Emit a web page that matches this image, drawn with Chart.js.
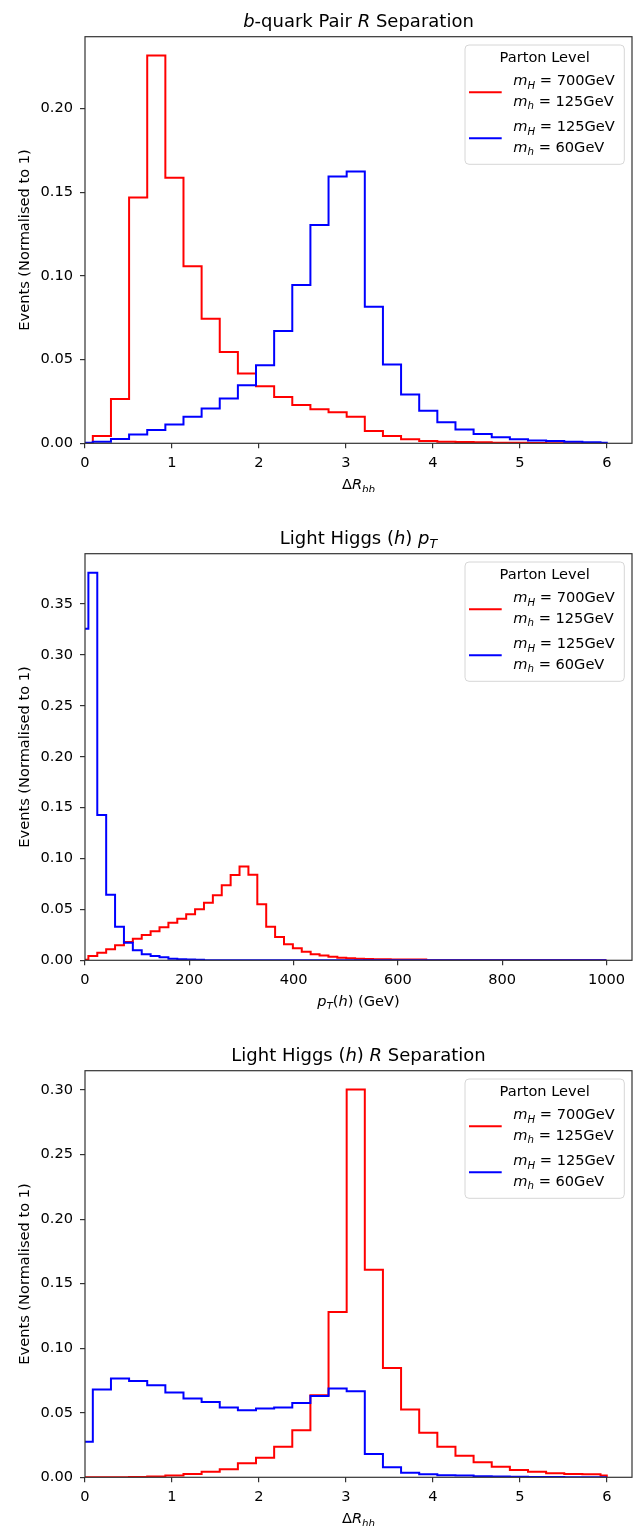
<!DOCTYPE html>
<html>
<head>
<meta charset="utf-8">
<script src="https://cdn.jsdelivr.net/npm/chart.js@4.4.0/dist/chart.umd.min.js"></script>
<style>
body { margin: 0; background: #fff; width: 635px; height: 1526px; position: relative; overflow: hidden; }
canvas { position: absolute; left: 0; }
</style>
</head>
<body>
<canvas id="c1" width="635" height="492" style="top:0px"></canvas>
<canvas id="c2" width="635" height="492" style="top:517px"></canvas>
<canvas id="c3" width="635" height="492" style="top:1034px"></canvas>
<script>
// histogram bins: [first edge, bin width, last edge]
const dRBins = [-0.1185, 0.2085, 6.0];
const ptBins = [-10.55, 17.05, 1000];

// b-quark pair Delta R
const dRbbHeavy = [0, 0.0043, 0.0264, 0.1468, 0.2315, 0.1585, 0.1057, 0.0744, 0.0545, 0.0417,
  0.0341, 0.0277, 0.0228, 0.0204, 0.0185, 0.0158, 0.0073, 0.0043, 0.0024, 0.0014,
  0.0010, 0.0008, 0.0006, 0.0004, 0.0003, 0.0002, 0.0001, 0, 0, 0];
const dRbbLight = [0.0004, 0.0010, 0.0026, 0.0053, 0.0079, 0.0113, 0.0159, 0.0208, 0.0268, 0.0347,
  0.0466, 0.0670, 0.0946, 0.1303, 0.1593, 0.1623, 0.0815, 0.0470, 0.0292, 0.0194,
  0.0125, 0.0083, 0.0055, 0.0036, 0.0024, 0.0016, 0.0014, 0.0009, 0.0007, 0.0003];

// light higgs pT
const ptHeavy = [0.0005, 0.0042, 0.0075, 0.0108, 0.0147, 0.0180, 0.0212, 0.0248, 0.0285, 0.0324,
  0.0369, 0.0409, 0.0452, 0.0501, 0.0566, 0.0638, 0.0737, 0.0838, 0.0922, 0.0840,
  0.0550, 0.0330, 0.0229, 0.0157, 0.0118, 0.0085, 0.0059, 0.0046, 0.0036, 0.0026,
  0.0020, 0.0016, 0.0013, 0.0010, 0.0010, 0.0009, 0.0008, 0.0008, 0.0007, 0,
  0, 0, 0, 0, 0, 0, 0, 0, 0, 0,
  0, 0, 0, 0, 0, 0, 0, 0, 0, 0];
const ptLight = [0.3258, 0.3807, 0.1427, 0.0645, 0.0330, 0.0173, 0.0098, 0.0059, 0.0042, 0.0029,
  0.0016, 0.0010, 0.0008, 0.0005, 0, 0, 0, 0, 0, 0,
  0, 0, 0, 0, 0, 0, 0, 0, 0, 0,
  0, 0, 0, 0, 0, 0, 0, 0, 0, 0,
  0, 0, 0, 0, 0, 0, 0, 0, 0, 0,
  0, 0, 0, 0, 0, 0, 0, 0, 0, 0];

// light higgs pair Delta R
const dRhhHeavy = [0, 0, 0.0001, 0.0003, 0.0006, 0.0013, 0.0025, 0.0043, 0.0062, 0.0108,
  0.0152, 0.0237, 0.0365, 0.0636, 0.1280, 0.3005, 0.1607, 0.0847, 0.0525, 0.0345,
  0.0237, 0.0167, 0.0116, 0.0082, 0.0056, 0.0043, 0.0031, 0.0026, 0.0023, 0.0013];
const dRhhLight = [0.0275, 0.0680, 0.0765, 0.0747, 0.0713, 0.0657, 0.0610, 0.0584, 0.0541, 0.0520,
  0.0533, 0.0541, 0.0576, 0.0630, 0.0687, 0.0667, 0.0180, 0.0077, 0.0036, 0.0023,
  0.0015, 0.0013, 0.0008, 0.0006, 0.0004, 0.0003, 0.0002, 0.0001, 0.0001, 0];

const titles = ['$b$-quark Pair $R$ Separation', 'Light Higgs $(h)$ $p_T$', 'Light Higgs $(h)$ $R$ Separation'];
const xLabels = ['$\u0394R_{bb}$', '$p_T(h)$ (GeV)', '$\u0394R_{hh}$'];
const yLabel = 'Events (Normalised to 1)';
const legendTitle = 'Parton Level';
const legendHeavy = ['$m_H$ = 700GeV', '$m_h$ = 125GeV'];
const legendLight = ['$m_H$ = 125GeV', '$m_h$ = 60GeV'];
const xTicks = [[0, 1, 2, 3, 4, 5, 6], [0, 200, 400, 600, 800, 1000], [0, 1, 2, 3, 4, 5, 6]];
const yTicks = [[0, 0.05, 0.10, 0.15, 0.20],
  [0, 0.05, 0.10, 0.15, 0.20, 0.25, 0.30, 0.35],
  [0, 0.05, 0.10, 0.15, 0.20, 0.25, 0.30]];
const xMax = [6.29, 1049, 6.29];
const yMax = [0.2428, 0.3995, 0.3150];

const RED = '#ff0000', BLUE = '#0000ff';
const FONT = '"DejaVu Sans"';
const TICK = 14.6, TITLE = 18;

Chart.defaults.font.family = FONT;
Chart.defaults.font.size = TICK;
Chart.defaults.color = '#000';

// outline of a step histogram
function stepPoints(bins, vals) {
  const edge = k => Math.min(bins[0] + bins[1] * k, bins[2]);
  const pts = [{x: edge(0), y: 0}];
  vals.forEach((v, k) => pts.push({x: edge(k), y: v}));
  pts.push({x: edge(vals.length), y: 0});
  return pts;
}

// tiny mathtext: $...$ makes letters italic, _x / _{xy} subscripts
function parseTex(s) {
  const out = [];
  let math = false;
  const add = (t, it, sub) => {
    const last = out[out.length - 1];
    if (last && last.it === it && last.sub === sub) last.t += t;
    else out.push({t, it, sub});
  };
  for (let i = 0; i < s.length; i++) {
    const c = s[i];
    if (c === '$') { math = !math; continue; }
    if (math && c === '_') {
      let sub = s[++i];
      if (sub === '{') { const j = s.indexOf('}', i); sub = s.slice(i + 1, j); i = j; }
      for (const ch of sub) add(ch, /[A-Za-z]/.test(ch), true);
      continue;
    }
    add(c, math && /[A-Za-z]/.test(c), false);
  }
  return out;
}

function richText(ctx, s, x, y, size, align) {
  const segs = parseTex(s);
  const fontOf = g => (g.it ? 'italic ' : '') + (g.sub ? size * 0.7 : size) + 'px ' + FONT;
  let w = 0;
  segs.forEach(g => { ctx.font = fontOf(g); g.w = ctx.measureText(g.t).width; w += g.w; });
  let cx = align === 'center' ? x - w / 2 : x;
  ctx.textAlign = 'left';
  ctx.textBaseline = 'alphabetic';
  ctx.fillStyle = '#000';
  segs.forEach(g => {
    ctx.font = fontOf(g);
    ctx.fillText(g.t, cx, y + (g.sub ? size * 0.22 : 0));
    cx += g.w;
  });
}

const decor = {
  id: 'decor',
  afterDraw(chart, args, opts) {
    const ctx = chart.ctx;
    const a = chart.chartArea;
    const midX = (a.left + a.right) / 2;
    ctx.save();
    // frame
    ctx.strokeStyle = '#333';
    ctx.lineWidth = 1.2;
    ctx.strokeRect(a.left, a.top, a.right - a.left, a.bottom - a.top);
    // title and axis labels
    richText(ctx, opts.title, midX, a.top - 10, TITLE, 'center');
    richText(ctx, opts.xlabel, midX, a.bottom + 46, TICK, 'center');
    ctx.save();
    ctx.translate(25, (a.top + a.bottom) / 2);
    ctx.rotate(-Math.PI / 2);
    ctx.font = TICK + 'px ' + FONT;
    ctx.textAlign = 'center';
    ctx.textBaseline = 'middle';
    ctx.fillStyle = '#000';
    ctx.fillText(yLabel, 0, 0);
    ctx.restore();
    // legend
    const bw = 159.3, bh = 119.3;
    const bx = a.right - 7.7 - bw, by = a.top + 8.3;
    ctx.beginPath();
    ctx.roundRect(bx, by, bw, bh, 4);
    ctx.fillStyle = 'rgba(255,255,255,0.8)';
    ctx.fill();
    ctx.strokeStyle = '#d6d6d6';
    ctx.lineWidth = 1;
    ctx.stroke();
    richText(ctx, legendTitle, bx + bw / 2, by + 17, TICK, 'center');
    const entries = [[legendHeavy, RED, 0], [legendLight, BLUE, 46]];
    entries.forEach(([lines, col, dy]) => {
      ctx.strokeStyle = col;
      ctx.lineWidth = 2;
      ctx.beginPath();
      ctx.moveTo(bx + 4, by + 47.3 + dy);
      ctx.lineTo(bx + 36.7, by + 47.3 + dy);
      ctx.stroke();
      richText(ctx, lines[0], bx + 48.3, by + 40.3 + dy, TICK, 'left');
      richText(ctx, lines[1], bx + 48.3, by + 61 + dy, TICK, 'left');
    });
    ctx.restore();
  }
};

function makeChart(id, i, bins, heavy, light) {
  const ds = (vals, col, order) => ({
    data: stepPoints(bins, vals),
    stepped: 'before',
    borderColor: col,
    borderWidth: 2,
    pointRadius: 0,
    fill: false,
    order: order
  });
  const axisGrid = {drawOnChartArea: false, drawTicks: true, tickLength: 5, color: '#333', lineWidth: 1.2};
  new Chart(document.getElementById(id), {
    type: 'line',
    data: {datasets: [ds(light, BLUE, 0), ds(heavy, RED, 1)]},
    options: {
      responsive: false,
      animation: false,
      devicePixelRatio: 1,
      layout: {padding: {top: 36.7, right: 3, left: 0, bottom: 0}},
      plugins: {
        legend: {display: false},
        tooltip: {enabled: false},
        decor: {title: titles[i], xlabel: xLabels[i]}
      },
      scales: {
        x: {
          type: 'linear', min: 0, max: xMax[i],
          afterBuildTicks: s => { s.ticks = xTicks[i].map(v => ({value: v})); },
          afterFit: s => { s.height = 48.7; },
          grid: axisGrid,
          border: {display: false},
          ticks: {padding: 6, maxRotation: 0, autoSkip: false, color: '#000', callback: v => String(v)}
        },
        y: {
          type: 'linear', min: 0, max: yMax[i],
          afterBuildTicks: s => { s.ticks = yTicks[i].map(v => ({value: v})); },
          afterFit: s => { s.width = 85; },
          grid: axisGrid,
          border: {display: false},
          ticks: {padding: 7, color: '#000', callback: v => v.toFixed(2)}
        }
      }
    },
    plugins: [decor]
  });
}

makeChart('c1', 0, dRBins, dRbbHeavy, dRbbLight);
makeChart('c2', 1, ptBins, ptHeavy, ptLight);
makeChart('c3', 2, dRBins, dRhhHeavy, dRhhLight);
</script>
</body>
</html>
